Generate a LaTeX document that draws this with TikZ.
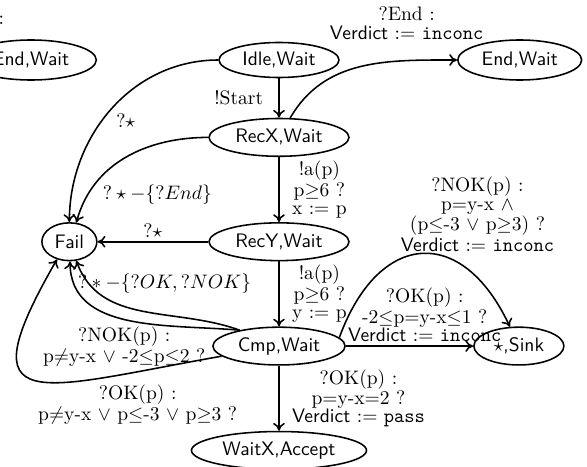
\documentclass[tikz,border=0pt]{standalone}
\usepackage{amsmath,amssymb}
\usepackage{tikz}
\usetikzlibrary{arrows.meta,positioning,shapes.geometric}
\tikzset{
  state/.style={ellipse, draw, thick, minimum height=0.68cm,
                inner sep=1pt, font=\sffamily},
  lbl/.style={font=\fontsize{10}{9.3}\selectfont, align=center, inner sep=2pt},
  arr/.style={-{To[length=4pt,width=6pt]}, thick},
}
\newcommand{\vrd}{\textsf{Verdict} := }

\begin{document}
\begin{tikzpicture}[node distance=1.17cm]
  \useasboundingbox (-5.022,-7.326) rectangle (5.544,1.08);
  \node[state, minimum width=2.16cm, minimum height=0.63cm] (idle) at (0,0) {Idle,Wait};
  \node[state, minimum width=2.52cm, below=0.71cm of idle] (recx) {RecX,Wait};
  \node[state, minimum width=2.52cm, below=of recx] (recy) {RecY,Wait};
  \node[state, minimum width=2.38cm, below=of recy] (cmp) {Cmp,Wait};
  \node[state, minimum width=3.15cm, below=of cmp] (waitx) {WaitX,Accept};
  \node[state, minimum width=0.99cm, left=1.99cm of recy] (fail) {Fail};
  \node[state, minimum width=1.62cm, right=2.29cm of cmp] (sink) {$\star$,Sink};
  \node[state, minimum width=2.23cm, minimum height=0.72cm, right=2.11cm of idle] (endr) {End,Wait};
  \node[state, minimum width=2.35cm, minimum height=0.72cm, left=2.18cm of idle] (endl) {End,Wait};
  \node[lbl, inner sep=0pt] (endlbl) at (-5.0,0.72) {:};

  % main column
  \draw[arr] (idle) -- node[lbl, left=0.2cm] {!Start} (recx);
  \draw[arr] (recx) -- node[lbl, right=0.15cm] {!a(p)\\p$\geq$6 ?\\x := p} (recy);
  \draw[arr] (recy) -- node[lbl, right=0.15cm] {!a(p)\\p$\geq$6 ?\\y := p} (cmp);
  \draw[arr] (cmp) -- node[lbl, right=0.15cm] {?OK(p) :\\p=y-x=2 ?\\\vrd\texttt{pass}} (waitx);
  \draw[arr] (recx.60) to[out=60, in=180]
        node[lbl, pos=0.75, above=0.3cm] {?End :\\\vrd\texttt{inconc}} (endr.west);

  % into Fail
  \draw[arr] (idle.west) to[out=180, in=90] node[lbl, pos=0.5, below right] {?$\star$} (fail.north);
  \draw[arr] (recx.west) to[out=180, in=75] node[lbl, pos=0.72, below right] {$?\star-\{?End\}$} (fail.70);
  \draw[arr] (recy) -- node[lbl, above] {?$\star$} (fail);
  \draw[arr] (cmp.158) to[out=160, in=-70]
        node[lbl, pos=0.38, above=0.3cm] {$?*-\{?OK,?NOK\}$} (fail.-70);
  \draw[arr] (cmp.158) to[out=175, in=-90]
        node[lbl, pos=0.52, below=0.06cm] {?NOK(p) :\\p$\neq$y-x $\vee$ -2$\leq$p$\leq$2 ?} (fail.-88);
  \draw[arr] (cmp.190) to[out=190, in=240, looseness=2.5]
        node[lbl, pos=0.17, below=0.15cm] {?OK(p) :\\p$\neq$y-x $\vee$ p$\leq$-3 $\vee$ p$\geq$3 ?} (fail.235);

  % into Sink
  \draw[arr] (cmp) -- node[lbl, pos=0.62, above] {?OK(p) :\\-2$\leq$p=y-x$\leq$1 ?\\\vrd\texttt{inconc}} (sink);
  \draw[arr] (cmp.8) to[out=70, in=115, looseness=1.7]
        node[lbl, pos=0.8, above=0.4cm] {?NOK(p) :\\p=y-x $\wedge$\\(p$\leq$-3 $\vee$ p$\geq$3) ?\\\vrd\texttt{inconc}} (sink.115);
\end{tikzpicture}
\end{document}
